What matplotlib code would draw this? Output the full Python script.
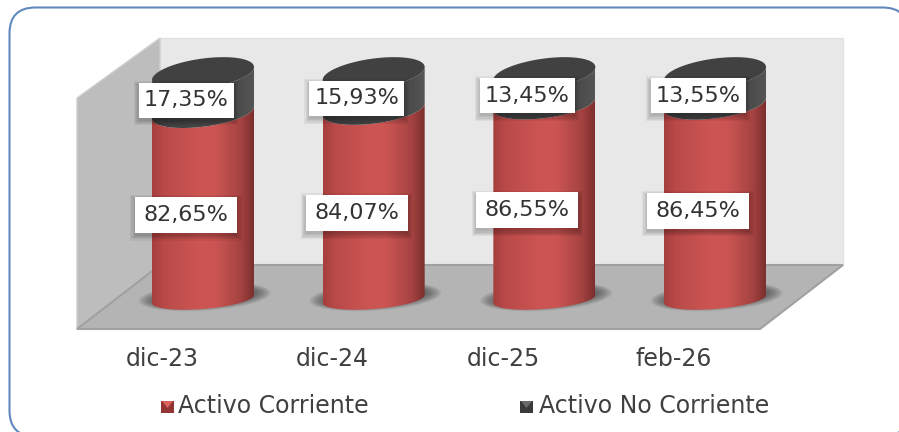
import numpy as np
import matplotlib
matplotlib.use('Agg')
import matplotlib.pyplot as plt
from matplotlib.patches import PathPatch, Polygon, Rectangle, FancyBboxPatch
from matplotlib.path import Path

categories = ['dic-23', 'dic-24', 'dic-25', 'feb-26']
corriente = [82.65, 84.07, 86.55, 86.45]
no_corriente = [17.35, 15.93, 13.45, 13.55]
labels_corriente = ['82,65%', '84,07%', '86,55%', '86,45%']
labels_no_corriente = ['17,35%', '15,93%', '13,45%', '13,55%']
legend_names = ['Activo Corriente', 'Activo No Corriente']

W, H = 899, 432
fig = plt.figure(figsize=(W/100, H/100), dpi=100)

# background axes in pixels: frame, walls, floor, legend
bg = fig.add_axes([0, 0, 1, 1])
bg.set_xlim(0, W)
bg.set_ylim(H, 0)
bg.axis('off')

bg.add_patch(FancyBboxPatch((9.5, 7.5), 899, 429, boxstyle='round,pad=0,rounding_size=26',
                            fc='white', ec='#6088bd', lw=1.5))
bg.add_patch(Polygon([(160, 38), (843, 38), (843, 265), (160, 265)], fc='#e8e8e8', ec='#e2e2e2', lw=1))
bg.add_patch(Polygon([(160, 38), (160, 265), (77, 329), (77, 98)], fc='#bdbdbd', ec='#cfcfcf', lw=1))
bg.add_patch(Polygon([(160, 265), (843, 265), (760, 329), (77, 329)], fc='#b4b4b4', ec='#a0a0a0', lw=1.5))

# cylinder axes: x is the category index, y is the percentage
X0, DX = 203, 170.67     # pixel of first category, pixels per category
Y0, Y100 = 299, 73.5     # pixel of 0% and 100% on the cylinder axis
PY = (Y0 - Y100)/100     # pixels per percent
YMIN, YMAX = -15, 115    # room for the ellipses and shadows
ax = fig.add_axes([(X0 - 0.5*DX)/W, 1 - (Y0 - YMIN*PY)/H, 4*DX/W, (YMAX - YMIN)*PY/H])
ax.set_xlim(-0.5, 3.5)
ax.set_ylim(YMIN, YMAX)
ax.patch.set_alpha(0)
for s in ax.spines.values():
    s.set_visible(False)
ax.set_yticks([])
HALF = 51/DX


def ring(cx, level, t, half=HALF, extra_b=0):
    # tilted ellipse, top of the cylinder looks a bit more open than the bottom
    f = level/100
    b = 10 + 5*f + extra_b
    tilt = 4 + 2.5*f
    x = cx + half*np.cos(t)
    y = level + (tilt*np.cos(t) - b*np.sin(t))/PY
    return np.column_stack([x, y])


def side_path(cx, low, high):
    t = np.linspace(np.pi, 0, 60)
    pts = np.vstack([ring(cx, low, t), ring(cx, high, t[::-1])])
    return Path(np.vstack([pts, pts[:1]]), closed=False)


def gradient_side(cx, low, high, edge_l, mid, edge_r, z):
    patch = PathPatch(side_path(cx, low, high), fc='none', ec='none', zorder=z)
    ax.add_patch(patch)
    u = np.linspace(0, 1, 120)
    cols = np.empty((1, 120, 3))
    for k in range(3):
        cols[0, :, k] = np.interp(u, [0, 0.12, 0.45, 0.62, 0.88, 1],
                                  [edge_l[k], 0.5*(edge_l[k] + mid[k]), mid[k], mid[k],
                                   0.5*(edge_r[k] + mid[k]), edge_r[k]])
    im = ax.imshow(cols, extent=[cx - HALF, cx + HALF, low - 12, high + 12], aspect='auto',
                   zorder=z, interpolation='bilinear')
    im.set_clip_path(patch)


def rgb(c):
    return np.array(matplotlib.colors.to_rgb(c))


t_all = np.linspace(0, 2*np.pi, 120)
for i in range(len(categories)):
    # soft floor shadow
    for k in range(10):
        ax.add_patch(Polygon(ring(i, 0, t_all, half=(66 - 1.6*k)/DX, extra_b=4 - 0.6*k) + [0.01, 1],
                             fc='#303030', ec='none', alpha=0.075, zorder=2))
    gradient_side(i, 0, corriente[i], rgb('#a63f3e'), rgb('#cc5553'), rgb('#7c2f2e'), 3)
    gradient_side(i, corriente[i], 100, rgb('#3a3a3a'), rgb('#454545'), rgb('#555555'), 4)
    ax.add_patch(Polygon(ring(i, 100, t_all), fc='#414141', ec='none', zorder=5))
ax.set_xlim(-0.5, 3.5)
ax.set_ylim(YMIN, YMAX)


def value_label(i, level, txt, w, h):
    # box sits left of and slightly below the middle of its segment
    xc = i - 17/DX
    yc = level - (9 if level < 60 else 7)/PY
    hw, hh = 0.5*w/DX, 0.5*h/PY
    for k in range(5):
        g = (4 - k)*1.2
        ax.add_patch(Rectangle((xc - hw - g/DX, yc - hh - (3 + g)/PY), 2*hw + 2*g/DX, 2*hh + 2*g/PY,
                               fc='black', ec='none', alpha=0.05, zorder=6))
    ax.add_patch(Rectangle((xc - hw, yc - hh), 2*hw, 2*hh, fc='white', ec='none', zorder=7))
    ax.text(xc, yc, txt, ha='center', va='center', fontsize=16, color='#333333', zorder=8)


for i in range(len(categories)):
    value_label(i, corriente[i]/2, labels_corriente[i], 102, 36)
    value_label(i, corriente[i] + no_corriente[i]/2, labels_no_corriente[i], 95, 35)

# category labels are set left of the cylinders, as in the 3D projection
ax.set_xticks(np.arange(len(categories)) - 41/DX)
ax.set_xticklabels(categories, fontsize=17, color='#404040')
ax.tick_params(axis='x', length=0, pad=10.5)

# legend
for x_box, name, x_txt, top, bot in [(161, legend_names[0], 178, '#d9605c', '#933432'),
                                     (520, legend_names[1], 539, '#6a6a6a', '#3a3a3a')]:
    bg.add_patch(Rectangle((x_box, 401), 13, 12, fc=bot, ec='none'))
    bg.add_patch(Polygon([(x_box + 1, 401), (x_box + 12, 401), (x_box + 6.5, 408)], fc=top, ec='none'))
    bg.text(x_txt, 406, name, ha='left', va='center', fontsize=17, color='#404040')

fig.savefig('out.png', dpi=100)
